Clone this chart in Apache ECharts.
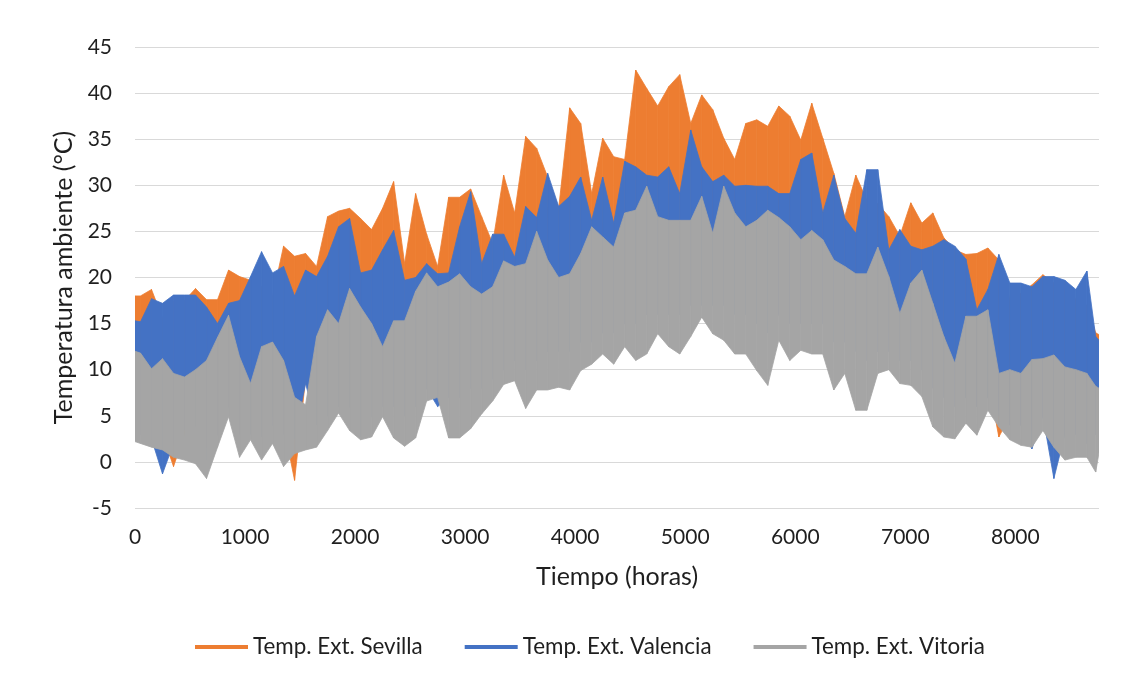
<!DOCTYPE html>
<html>
<head>
<meta charset="utf-8">
<script src="https://cdn.jsdelivr.net/npm/echarts@6/dist/echarts.min.js"></script>
<style>
  html, body { margin: 0; padding: 0; background: #ffffff; }
  #chart { width: 1139px; height: 680px; }
</style>
</head>
<body>
<div id="chart"></div>
<script>
// Sample hours: start of the year, centre of each 100-hour block, end of the year
const hours = [0,
  50, 150, 250, 350, 450, 550, 650, 750, 850, 950,
  1050, 1150, 1250, 1350, 1450, 1550, 1650, 1750, 1850, 1950,
  2050, 2150, 2250, 2350, 2450, 2550, 2650, 2750, 2850, 2950,
  3050, 3150, 3250, 3350, 3450, 3550, 3650, 3750, 3850, 3950,
  4050, 4150, 4250, 4350, 4450, 4550, 4650, 4750, 4850, 4950,
  5050, 5150, 5250, 5350, 5450, 5550, 5650, 5750, 5850, 5950,
  6050, 6150, 6250, 6350, 6450, 6550, 6650, 6750, 6850, 6950,
  7050, 7150, 7250, 7350, 7450, 7550, 7650, 7750, 7850, 7950,
  8050, 8150, 8250, 8350, 8450, 8550, 8650, 8730,
  8760];

// Daily-swing envelope (°C): highest and lowest hourly temperature around each sample hour
const sevillaMax = [18.0,
  18.0, 18.7, 15.6, 17.4, 17.5, 18.8, 17.6, 17.6, 20.8, 20.1,
  19.7, 19.0, 17.9, 23.4, 22.3, 22.6, 21.2, 26.6, 27.2, 27.5,
  26.4, 25.2, 27.5, 30.4, 21.5, 29.1, 24.7, 21.2, 28.7, 28.7,
  29.6, 26.6, 23.7, 31.1, 27.0, 35.3, 34.0, 30.9, 27.5, 38.4,
  36.7, 29.1, 35.1, 33.1, 32.8, 42.5, 40.5, 38.6, 40.7, 42.0,
  36.7, 39.8, 38.2, 35.1, 32.8, 36.7, 37.1, 36.4, 38.6, 37.5,
  34.9, 38.9, 35.1, 31.3, 26.6, 31.1, 28.4, 28.0, 26.6, 24.5,
  28.1, 25.9, 27.0, 24.3, 23.0, 22.5, 22.6, 23.2, 21.9, 17.6,
  18.3, 19.2, 20.3, 19.4, 19.6, 17.6, 17.0, 14.0,
  13.8];
const sevillaMin = [4.0,
  4.0, 2.4, 3.0, -0.5, 3.0, 5.0, 3.0, 4.0, 7.0, 4.0,
  5.0, 4.0, 5.0, 4.0, -2.0, 9.0, 6.0, 7.0, 8.0, 8.0,
  7.0, 7.0, 8.0, 8.0, 7.0, 8.0, 10.0, 10.0, 10.0, 10.0,
  11.0, 11.0, 12.0, 13.0, 13.0, 12.0, 13.0, 14.0, 14.0, 15.0,
  15.0, 16.0, 17.0, 17.0, 18.0, 18.0, 19.0, 19.0, 19.0, 19.0,
  19.0, 19.0, 19.0, 19.0, 18.0, 18.0, 18.0, 17.0, 18.0, 18.0,
  18.0, 18.0, 18.0, 16.0, 16.0, 15.0, 14.0, 14.0, 14.0, 13.0,
  13.0, 12.0, 10.0, 9.0, 9.0, 9.0, 8.0, 9.0, 2.7, 5.0,
  5.0, 5.0, 6.0, 5.0, 4.0, 4.0, 3.0, 4.0,
  4.0];

const valenciaMax = [15.3,
  15.2, 17.7, 17.2, 18.1, 18.1, 18.1, 16.8, 15.0, 17.2, 17.5,
  20.1, 22.8, 20.5, 21.2, 18.0, 20.8, 20.1, 22.3, 25.5, 26.4,
  20.5, 20.8, 23.0, 25.1, 19.7, 20.0, 21.5, 20.4, 20.5, 25.5,
  29.3, 21.5, 24.7, 24.7, 22.2, 27.7, 26.5, 31.3, 27.7, 28.8,
  30.9, 26.2, 30.9, 25.9, 32.6, 32.0, 31.1, 30.9, 32.0, 29.1,
  36.0, 32.0, 30.4, 31.1, 29.9, 30.0, 29.9, 29.9, 29.1, 29.1,
  32.8, 33.5, 27.0, 31.1, 26.4, 24.8, 31.7, 31.7, 23.0, 25.2,
  23.4, 23.0, 23.4, 24.1, 23.4, 22.0, 16.5, 18.7, 22.5, 19.4,
  19.4, 19.0, 20.1, 20.1, 19.7, 18.7, 20.7, 13.6,
  13.2];
const valenciaMin = [3.0,
  3.0, 2.5, -1.3, 2.0, 3.5, 4.0, 0.2, 3.0, 6.0, 3.0,
  3.0, 2.7, 4.0, 3.0, 2.5, 8.5, 4.0, 5.0, 6.0, 6.0,
  2.7, 5.0, 6.0, 6.0, 5.0, 6.0, 8.0, 6.0, 7.0, 7.0,
  8.0, 8.0, 9.0, 10.0, 11.0, 10.0, 11.0, 12.0, 12.0, 12.0,
  13.0, 13.0, 14.0, 14.0, 15.0, 15.0, 16.0, 16.0, 16.0, 16.0,
  17.0, 17.0, 17.0, 17.0, 16.0, 16.0, 15.0, 14.0, 16.0, 15.0,
  15.0, 15.0, 15.0, 13.0, 13.0, 12.0, 11.0, 12.0, 12.0, 11.0,
  11.0, 10.0, 8.0, 7.0, 6.0, 7.0, 6.0, 7.0, 5.0, 4.0,
  4.0, 1.4, 5.0, -1.8, 3.0, 3.0, 2.0, 3.0,
  3.0];

const vitoriaMax = [12.0,
  11.8, 10.1, 11.2, 9.6, 9.2, 10.0, 11.0, 13.5, 15.9, 11.4,
  8.5, 12.5, 13.0, 11.0, 7.0, 6.2, 13.6, 16.5, 15.0, 18.8,
  16.8, 15.0, 12.5, 15.3, 15.3, 18.5, 20.5, 19.0, 19.5, 20.4,
  19.0, 18.2, 19.0, 21.8, 21.2, 21.5, 25.0, 21.9, 20.0, 20.4,
  22.6, 25.5, 24.4, 23.3, 27.0, 27.3, 29.9, 26.6, 26.2, 26.2,
  26.2, 28.8, 24.8, 29.9, 27.0, 25.5, 26.2, 27.3, 26.5, 25.5,
  24.1, 25.1, 24.1, 21.9, 21.2, 20.4, 20.4, 23.3, 20.1, 16.1,
  19.4, 20.8, 17.2, 13.6, 10.7, 15.8, 15.8, 16.5, 9.6, 10.0,
  9.6, 11.1, 11.2, 11.6, 10.3, 10.0, 9.6, 8.2,
  8.0];
const vitoriaMin = [2.2,
  2.0, 1.6, 1.3, 0.5, 0.2, -0.2, -1.8, 1.6, 4.9, 0.5,
  2.4, 0.2, 2.0, -0.5, 0.9, 1.3, 1.6, 3.4, 5.3, 3.4,
  2.4, 2.7, 4.9, 2.6, 1.7, 2.6, 6.6, 7.0, 2.6, 2.6,
  3.6, 5.2, 6.6, 8.4, 8.8, 5.8, 7.8, 7.8, 8.1, 7.8,
  9.9, 10.6, 11.7, 10.6, 12.5, 11.0, 11.7, 13.9, 12.5, 11.7,
  13.6, 15.7, 13.9, 13.2, 11.7, 11.7, 9.9, 8.3, 13.2, 11.0,
  12.1, 11.7, 11.7, 7.8, 9.6, 5.6, 5.6, 9.6, 10.0, 8.5,
  8.3, 7.1, 3.8, 2.7, 2.5, 4.2, 2.9, 5.6, 3.8, 2.4,
  1.8, 1.6, 3.4, 1.6, 0.2, 0.5, 0.5, -1.1,
  1.0];

const cities = [
  { name: 'Temp. Ext. Sevilla',  color: '#ED7D31', max: sevillaMax,  min: sevillaMin },
  { name: 'Temp. Ext. Valencia', color: '#4472C4', max: valenciaMax, min: valenciaMin },
  { name: 'Temp. Ext. Vitoria',  color: '#A5A5A5', max: vitoriaMax,  min: vitoriaMin }
];

const FONT = 'Lato, "Open Sans", sans-serif';
const TEXT = '#1f1f1f';

// One segment of a city's band, between two consecutive sample hours
function renderSegment(params, api) {
  const pts = [
    api.coord([api.value(0), api.value(3)]),
    api.coord([api.value(1), api.value(5)]),
    api.coord([api.value(1), api.value(4)]),
    api.coord([api.value(0), api.value(2)])
  ];
  const color = api.visual('color');
  return {
    type: 'polygon',
    shape: { points: pts },
    style: { fill: color, stroke: color, lineWidth: 0.8 }
  };
}

const series = cities.map(function (c) {
  const data = [];
  for (let i = 0; i < hours.length - 1; i++) {
    data.push([hours[i], hours[i + 1], c.min[i], c.max[i], c.min[i + 1], c.max[i + 1]]);
  }
  return {
    name: c.name,
    type: 'custom',
    renderItem: renderSegment,
    itemStyle: { color: c.color },
    encode: { x: [0, 1], y: [2, 3, 4, 5] },
    clip: true,
    data: data
  };
});

const chart = echarts.init(document.getElementById('chart'), null, { renderer: 'canvas' });
chart.setOption({
  animation: false,
  backgroundColor: '#ffffff',
  textStyle: { fontFamily: FONT },
  grid: { left: 135, right: 40, top: 47, bottom: 172, containLabel: false },
  xAxis: {
    type: 'value',
    min: 0,
    max: 8760,
    interval: 1000,
    name: 'Tiempo (horas)',
    nameLocation: 'middle',
    nameGap: 56,
    nameTextStyle: { fontSize: 25, color: TEXT, fontFamily: FONT },
    axisLine: { show: false },
    axisTick: { show: false },
    splitLine: { show: false },
    axisLabel: {
      fontSize: 21, color: TEXT, margin: 19, showMaxLabel: false, fontFamily: FONT,
      formatter: function (v) { return String(v); }
    }
  },
  yAxis: {
    type: 'value',
    min: -5,
    max: 45,
    interval: 5,
    name: 'Temperatura ambiente (°C)',
    nameLocation: 'middle',
    nameGap: 55,
    nameTextStyle: { fontSize: 25, color: TEXT, fontFamily: FONT },
    axisLine: { show: false },
    axisTick: { show: false },
    splitLine: { show: true, lineStyle: { color: '#D9D9D9', width: 1 } },
    axisLabel: { fontSize: 21, color: TEXT, margin: 23, fontFamily: FONT }
  },
  legend: {
    bottom: 17,
    left: 190,
    icon: 'rect',
    itemWidth: 53,
    itemHeight: 4,
    itemGap: 42,
    textStyle: { fontSize: 22.4, color: TEXT, fontFamily: FONT },
    data: cities.map(function (c) { return c.name; })
  },
  series: series
});
</script>
</body>
</html>
